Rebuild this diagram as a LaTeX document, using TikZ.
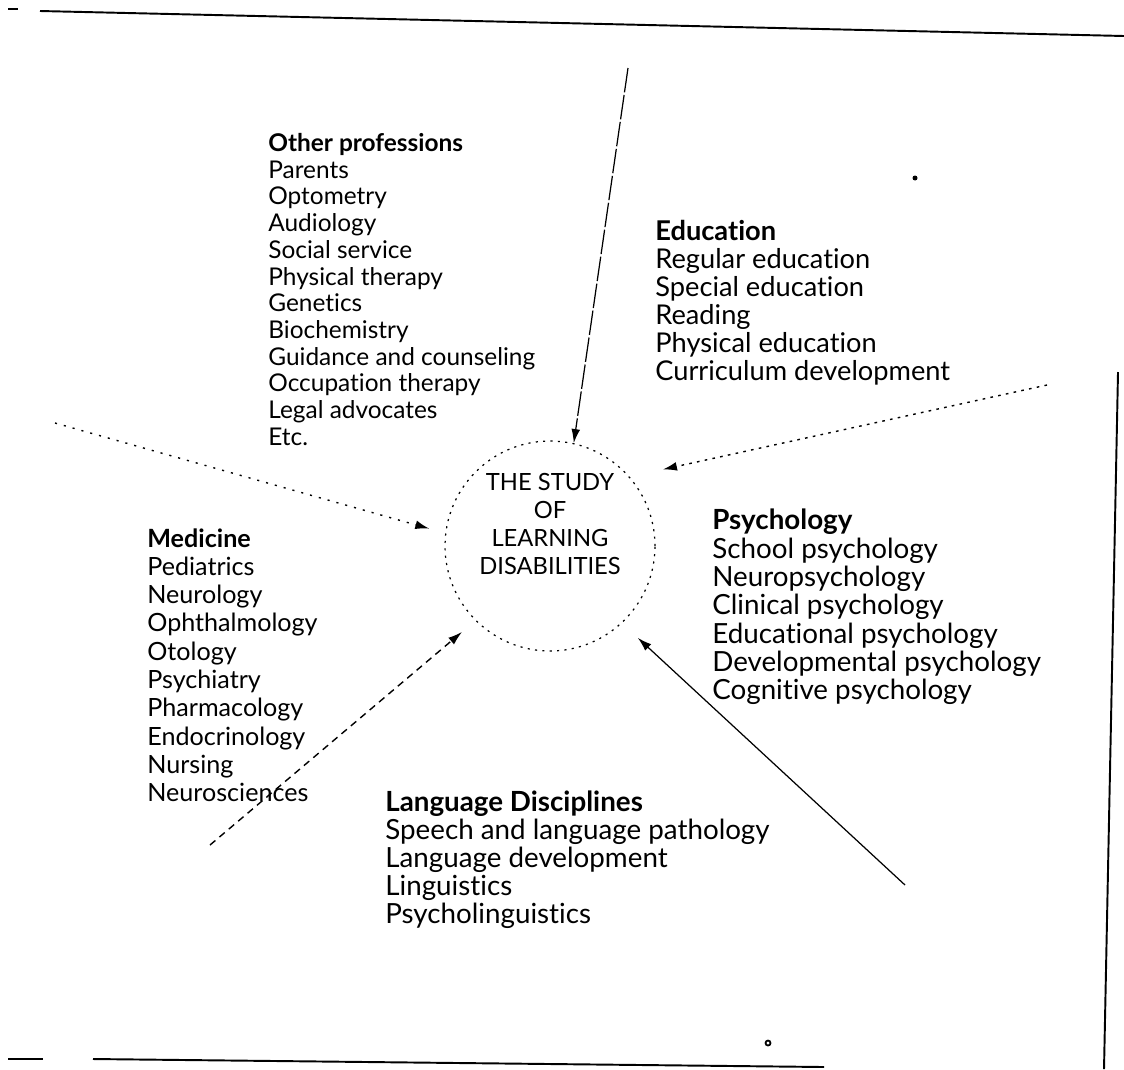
\documentclass[tikz,border=0pt]{standalone}
\usepackage{fontspec}
\setmainfont{Lato}[Ligatures=NoCommon]
\usetikzlibrary{arrows.meta,calc,positioning}
\tikzset{
  field/.style={anchor=north west, align=left, inner sep=0pt, font=\fontsize{15.5}{15.9}\selectfont},
  hub/.style={circle, draw, line width=0.7pt, dash pattern=on 1.2pt off 3pt, minimum size=4.2cm, inner sep=0pt},
  feed/.style={line width=0.8pt, -{Latex[length=8pt,width=5pt]}},
  edge/.style={line width=1.1pt}
}

\begin{document}
\begin{tikzpicture}[x=0.02cm,y=-0.02cm]
        \useasboundingbox (0,0) rectangle (1124,1069);
        \coordinate (pEdu) at (628,68);
        \coordinate (pPsy) at (1047,385);
        \coordinate (pMed) at (55,423);
        \coordinate (pLang) at (210,845);
        \coordinate (pLd) at (905,885);
        %Centre
        \node[hub] (ld) at (550,546) {};
        \node[align=center, inner sep=0pt, font=\fontsize{13.5}{15.8}\selectfont] (ldtext) at (550,524) {THE STUDY\\OF\\LEARNING\\DISABILITIES};
        %Draw labels
        \node[field, font=\fontsize{13.9}{15.2}\selectfont] (other) at (268,133) {\textbf{Other professions}\\Parents\\Optometry\\Audiology\\Social service\\Physical therapy\\Genetics\\Biochemistry\\Guidance and counseling\\Occupation therapy\\Legal advocates\\Etc.};
        \node[field] (educ) at (655,220) {\textbf{Education}\\Regular education\\Special education\\Reading\\Physical education\\Curriculum development};
        \node[field, font=\fontsize{15.8}{16.1}\selectfont] (psych) at (712,509) {\textbf{Psychology}\\School psychology\\Neuropsychology\\Clinical psychology\\Educational psychology\\Developmental psychology\\Cognitive psychology};
        \node[field, font=\fontsize{14.3}{16.1}\selectfont] (med) at (147,528) {\textbf{Medicine}\\Pediatrics\\Neurology\\Ophthalmology\\Otology\\Psychiatry\\Pharmacology\\Endocrinology\\Nursing\\Neurosciences};
        \node[field, font=\fontsize{15.8}{15.9}\selectfont] (lang) at (385,791) {\textbf{Language Disciplines}\\Speech and language pathology\\Language development\\Linguistics\\Psycholinguistics};
        %Draw lines
        \draw[feed, line width=0.7pt, dash pattern=on 14pt off 1.5pt] (pEdu) -- (ld.77);
        \draw[feed, dash pattern=on 1.5pt off 3pt, shorten >=0.68cm] (pPsy) -- (ld.41);
        \draw[feed, dash pattern=on 1.2pt off 4pt, shorten >=0.33cm] (pMed) -- (ld.173);
        \draw[feed, dash pattern=on 4pt off 3pt, shorten >=0.35cm] (pLang) -- (ld.225);
        \draw[feed, line width=0.7pt, shorten >=0.43cm] (pLd) -- (ld.313);
        %Page edges
        \draw[edge] (8,9) -- (18,9);
        \draw[edge] (40,11) -- (1124,36);
        \draw[edge] (8,1059) -- (43,1059);
        \draw[edge] (93,1059) -- (824,1067);
        \draw[edge] (1118,372) -- (1104,1069);
        \fill (915,178) circle (2.5);
        \draw[line width=1pt] (768,1043) circle (2.5);
      \end{tikzpicture}
\end{document}
